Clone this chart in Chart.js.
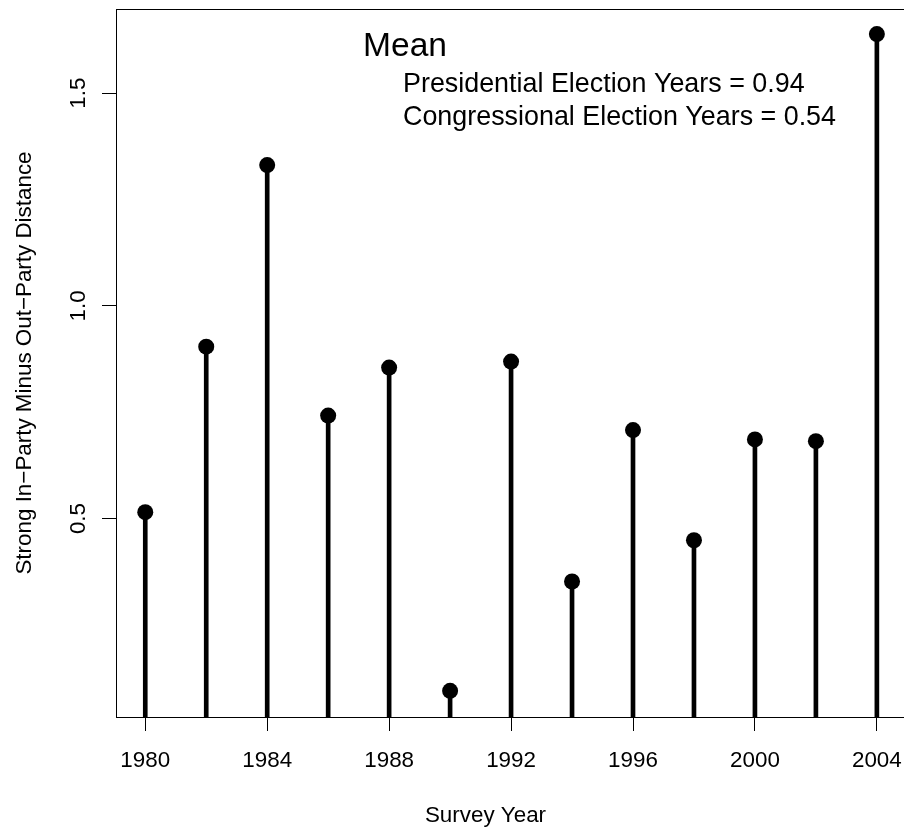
<!DOCTYPE html>
<html>
<head>
<meta charset="utf-8">
<script src="https://cdn.jsdelivr.net/npm/chart.js@4/dist/chart.umd.min.js"></script>
<style>
  html, body { margin: 0; padding: 0; background: #fff; overflow: hidden; }
  #wrap { width: 904px; height: 829px; }
</style>
</head>
<body>
<div id="wrap"><canvas id="chart" width="904" height="829"></canvas></div>
<script>
// Survey years and the distance measure for each year
const years = [1980, 1982, 1984, 1986, 1988, 1990, 1992, 1994, 1996, 1998, 2000, 2002, 2004];
const distance = [0.515, 0.904, 1.331, 0.742, 0.855, 0.095, 0.869, 0.352, 0.708, 0.449, 0.686, 0.682, 1.639];

// Axis ticks
const xTicks = [1980, 1984, 1988, 1992, 1996, 2000, 2004];
const yTicks = [0.5, 1.0, 1.5];

// Text in the upper part of the plot
const meanTitle = 'Mean';
const meanLines = ['Presidential Election Years = 0.94', 'Congressional Election Years = 0.54'];

const xTitle = 'Survey Year';
const yTitle = 'Strong In\u2212Party Minus Out\u2212Party Distance';

const FONT = '"Liberation Sans", Arial, sans-serif';
const base = 22.4;

const points = years.map((y, i) => ({ x: y, y: distance[i] }));

// box, rotated y labels, axis titles and the mean text
const rPlot = {
  id: 'rPlot',
  afterDraw(chart) {
    const { ctx, chartArea: a } = chart;
    const xs = chart.scales.x, ys = chart.scales.y;
    ctx.save();
    ctx.strokeStyle = '#000';
    ctx.lineWidth = 1;
    // the right side of the box falls just past the canvas edge
    ctx.strokeRect(a.left + 0.5, a.top + 0.5, a.right - a.left + 2, a.bottom - a.top);

    ctx.fillStyle = '#000';
    ctx.font = base + 'px ' + FONT;
    ctx.textAlign = 'center';
    ctx.textBaseline = 'alphabetic';

    // x tick labels
    xTicks.forEach(t => ctx.fillText(String(t), xs.getPixelForValue(t), 767));

    // y tick labels, turned to run along the axis
    yTicks.forEach(t => {
      ctx.save();
      ctx.translate(85, ys.getPixelForValue(t));
      ctx.rotate(-Math.PI / 2);
      ctx.fillText(t.toFixed(1), 0, 0);
      ctx.restore();
    });

    // axis titles
    ctx.fillText(xTitle, 485.5, 822);
    ctx.save();
    ctx.translate(31, (a.top + a.bottom) / 2);
    ctx.rotate(-Math.PI / 2);
    ctx.fillText(yTitle, 0, 0);
    ctx.restore();

    // mean text
    ctx.textAlign = 'left';
    ctx.font = (base * 1.5) + 'px ' + FONT;
    ctx.fillText(meanTitle, 363, 56);
    ctx.font = (base * 1.2) + 'px ' + FONT;
    ctx.fillText(meanLines[0], 403, 92);
    ctx.fillText(meanLines[1], 403, 125);
    ctx.restore();
  }
};

new Chart(document.getElementById('chart'), {
  data: {
    datasets: [
      {
        type: 'scatter',
        data: points,
        pointRadius: 8,
        pointHoverRadius: 8,
        pointBackgroundColor: '#000',
        pointBorderColor: '#000',
        pointBorderWidth: 0,
        order: 1
      },
      {
        type: 'bar',
        data: points,
        backgroundColor: '#000',
        barThickness: 4,
        order: 2
      }
    ]
  },
  options: {
    responsive: false,
    animation: false,
    events: [],
    layout: { autoPadding: false, padding: { top: 9, right: 0, left: 0, bottom: 0 } },
    plugins: { legend: { display: false }, tooltip: { enabled: false } },
    scales: {
      x: {
        type: 'linear',
        offset: false,
        min: 1979.04,
        max: 2004.89,
        afterBuildTicks: s => { s.ticks = xTicks.map(v => ({ value: v })); },
        afterFit: s => { s.height = 112; },
        ticks: { display: false },
        border: { display: false },
        grid: { offset: false, drawOnChartArea: false, drawTicks: true, tickLength: 14, color: '#000', lineWidth: 1 }
      },
      y: {
        type: 'linear',
        min: 0.0334,
        max: 1.698,
        afterBuildTicks: s => { s.ticks = yTicks.map(v => ({ value: v })); },
        afterFit: s => { s.width = 116; },
        ticks: { display: false },
        border: { display: false },
        grid: { drawOnChartArea: false, drawTicks: true, tickLength: 14, color: '#000', lineWidth: 1 }
      }
    }
  },
  plugins: [rPlot]
});
</script>
</body>
</html>
